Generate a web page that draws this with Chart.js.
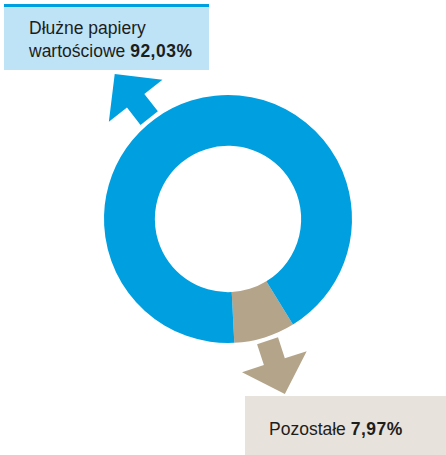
<!DOCTYPE html>
<html>
<head>
<meta charset="utf-8">
<script src="https://cdn.jsdelivr.net/npm/chart.js@4"></script>
<style>
  html, body { margin: 0; padding: 0; background: #fff; }
  #wrap { position: relative; width: 446px; height: 455px; overflow: hidden; }
  canvas { position: absolute; left: 0; top: 0; }
  .box { position: absolute; font-family: "Liberation Sans", Arial, Helvetica, sans-serif; font-size: 17.5px; line-height: 23px; color: #1d1d1b; }
  .box b { font-weight: bold; letter-spacing: 0.5px; }
  #boxTop { left: 4px; top: 4px; width: 205px; height: 66px; background: #bee3f7; border-top: 3px solid #009fe0; box-sizing: border-box; }
  #boxTop .t { position: absolute; left: 25px; top: 10px; white-space: nowrap; }
  #boxBot { left: 245px; top: 396px; width: 201px; height: 59px; background: #e8e2dc; }
  #boxBot .t { position: absolute; left: 24px; top: 22px; white-space: nowrap; }
</style>
</head>
<body>
<div id="wrap">
  <canvas id="c" width="446" height="455"></canvas>
  <div class="box" id="boxTop"><div class="t">Dłużne papiery<br>wartościowe <b>92,03%</b></div></div>
  <div class="box" id="boxBot"><div class="t">Pozostałe <b>7,97%</b></div></div>
</div>
<script>
const categories = ["Pozostałe", "Dłużne papiery wartościowe"];
const shares = [7.97, 92.03];
const sliceColors = ["#b4a48a", "#009fe0"];
// decorative arrows: angle (deg, clockwise from top) per category
const arrowAngles = [162, -38];

const arrowPlugin = {
  id: 'arrows',
  afterDatasetsDraw(chart) {
    const meta = chart.getDatasetMeta(0);
    const arc = meta.data[0];
    const cx = arc.x, cy = arc.y, R = arc.outerRadius;
    const ctx = chart.ctx;
    arrowAngles.forEach((deg, i) => {
      const a = deg * Math.PI / 180;
      const ux = Math.sin(a), uy = -Math.cos(a);
      const px = -uy, py = ux;
      const r0 = R + 4, rTip = R + 60, headLen = 34, headHalf = 34, shaftHalf = 11;
      const rBase = rTip - headLen;
      const P = (r, o) => [cx + ux * r + px * o, cy + uy * r + py * o];
      const pts = [P(r0, -shaftHalf), P(rBase, -shaftHalf), P(rBase, -headHalf), P(rTip, 0),
                   P(rBase, headHalf), P(rBase, shaftHalf), P(r0, shaftHalf)];
      ctx.save();
      ctx.beginPath();
      pts.forEach((p, k) => k ? ctx.lineTo(p[0], p[1]) : ctx.moveTo(p[0], p[1]));
      ctx.closePath();
      ctx.fillStyle = sliceColors[i];
      ctx.fill();
      ctx.restore();
    });
  }
};

new Chart(document.getElementById('c'), {
  type: 'doughnut',
  data: {
    labels: categories,
    datasets: [{
      data: shares,
      backgroundColor: sliceColors,
      borderWidth: 0
    }]
  },
  options: {
    responsive: false,
    animation: false,
    devicePixelRatio: 1,
    rotation: 148.4,
    cutout: '59%',
    layout: { padding: { left: 104, right: 94, top: 95, bottom: 112 } },
    plugins: { legend: { display: false }, tooltip: { enabled: false } }
  },
  plugins: [arrowPlugin]
});
</script>
</body>
</html>
